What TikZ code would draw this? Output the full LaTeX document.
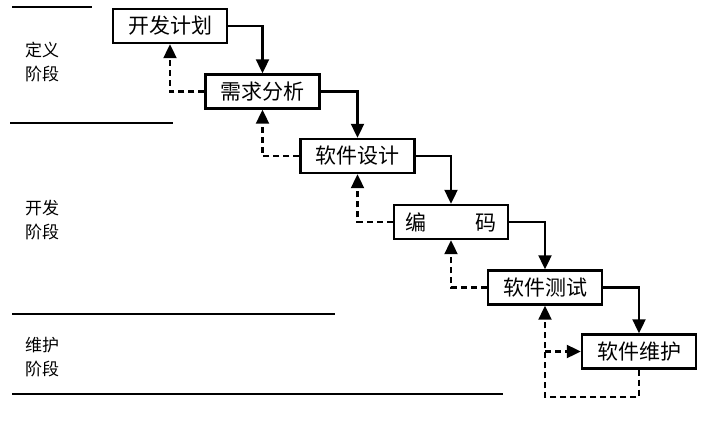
\documentclass[tikz,border=0pt]{standalone}
\usepackage{fontspec}
\newfontfamily\cjk{Noto Sans CJK SC}
\usepackage{tikz}
\usetikzlibrary{arrows.meta}
\tikzset{
  stage/.style={draw, line width=2.4pt, minimum width=114pt, minimum height=34pt, inner sep=0pt, font=\cjk\fontsize{21}{24}\selectfont},
  flow/.style={line width=2.1pt, -{Triangle[length=14pt,width=13pt]}},
  back/.style={flow, dash pattern=on 6pt off 4pt},
  phase/.style={anchor=west, align=left, inner sep=0pt, font=\cjk\fontsize{17}{24}\selectfont}
}

\begin{document}
\begin{tikzpicture}[x=1pt,y=-1pt]
\useasboundingbox (0,0) rectangle (706,420);
\draw[line width=1.3pt] (12,7) -- (92,7);
\draw[line width=1.3pt] (10,123) -- (173,123);
\draw[line width=1.3pt] (12,314) -- (335,314);
\draw[line width=1.3pt] (12,394) -- (503,394);
\node[phase] (def) at (25,62) {定义\\阶段};
\node[phase] (dev) at (25,220) {开发\\阶段};
\node[phase] (mnt) at (25,357) {维护\\阶段};
\node[stage] (plan) at (170,26) {开发计划};
\node[stage] (req) at (262.5,91.5) {需求分析};
\node[stage] (design) at (357.5,156) {软件设计};
\node[stage] (code) at (451,222) {编\hspace{50pt}码};
\node[stage] (test) at (545,287.5) {软件测试};
\node[stage] (maint) at (639,351.5) {软件维护};
\draw[flow] (plan.east) -| (req.north);
\draw[flow] (req.east) -| (design.north);
\draw[flow] (design.east) -| (code.north);
\draw[flow] (code.east) -| (test.north);
\draw[flow] (test.east) -| (maint.north);
\draw[back] (req.west) -| (plan.south);
\draw[back] (design.west) -| (req.south);
\draw[back] (code.west) -| (design.south);
\draw[back] (test.west) -| (code.south);
\coordinate (turn) at (test.south |- maint.west);
\coordinate (loop) at (545,397);
\draw[back] (maint.south) |- (loop) -- (test.south);
\draw[back] (turn) -- (maint.west);
\end{tikzpicture}
\end{document}
